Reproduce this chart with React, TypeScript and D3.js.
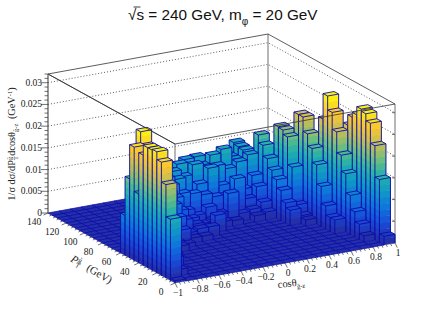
import React from 'react';
import * as d3 from 'd3';

// binned cross section, in units of 1e-3 GeV^-1, one list per cos bin; each starts at firstPtBin
const firstPtBin = [0, 2, 6, 8, 9, 10, 11, 11, 12, 13, 14, 14, 15, 14, 14, 11, 10, 6, 2, 0];
const binValues = [
  [0.5, 14.1, 21.5, 26.1, 27.9, 27.7, 27.7, 25.4, 15.9, 26.1, 18.2, 9.2],
  [1.4, 3.5, 5.8, 9, 13.4, 17.1, 21.9, 25.8, 28.6, 23.1],
  [1.4, 3.2, 5.8, 9.2, 13.6, 16.8, 19.6, 21.9],
  [0.7, 1.4, 2.3, 1.8, 3.7, 11.5, 18.5, 19.6],
  [1.4, 1.8, 3.5, 5.8, 6.9, 9.2, 11.5, 13.8, 16.2],
  [0.9, 3.5, 5.8, 8.1, 10.4, 11.5, 13.8, 15],
  [1.2, 1.8, 4.2, 5.8, 8.1, 10.4, 11.5, 12.7],
  [1.2, 2.3, 2.8, 3.5, 4.8, 8.1, 10.8, 12, 11.5],
  [2.3, 1.4, 1.8, 3.2, 7.6, 5.8, 10.4, 12.7],
  [3.9, 2.3, 4.6, 6.9, 8.8, 12.7, 8.3, 12.7],
  [1.4, 2.8, 6, 12, 10.4, 11.5, 12.9, 9.2],
  [1.2, 6.9, 5.8, 7.6, 11.5, 13.4, 11.5, 9.2],
  [1.8, 9.2, 6.9, 10.4, 14.3, 10.2, 9.2],
  [1.4, 2.3, 4.2, 5.8, 11.5, 11.5, 11.5, 11.5],
  [1.8, 3.5, 6.5, 8.5, 12.7, 13.2, 13.4, 13.8],
  [3.5, 4.6, 6.9, 8.8, 10.4, 12.5, 15, 16.8],
  [1.4, 1.8, 3.7, 11.8, 18.2, 19.2, 19.4],
  [3.2, 3.2, 5.3, 9.2, 13.6, 16.8, 19.6, 22.9, 22.9],
  [1.4, 3.5, 5.8, 9, 13.4, 17.1, 21.9, 25.8, 29, 23.1],
  [2, 14.5, 21.7, 26.3, 27.9, 28.4, 26.5, 25.4, 23, 20.7, 16.1, 9.2],
];
const cosTicks = [-1, -0.8, -0.6, -0.4, -0.2, 0, 0.2, 0.4, 0.6, 0.8, 1];
const ptTicks = [0, 20, 40, 60, 80, 100, 120, 140];
const zTicks = [0, 0.005, 0.01, 0.015, 0.02, 0.025, 0.03];
const paletteStops = ['#2430a8', '#194bd7', '#0f73dc', '#0f96c8', '#1eafaf', '#64be82', '#bebe5a', '#fac332', '#faf00f'];

const nCos = 20;
const nPt = 28;
const zMax = 0.032;
const levelStep = 0.00145;

const cosX = d3.scaleLinear([-1, 1], [0, 220]);
const cosY = d3.scaleLinear([-1, 1], [0, -40]);
const ptX = d3.scaleLinear([0, 140], [0, -127]);
const ptY = d3.scaleLinear([0, 140], [0, -70]);
const zY = d3.scaleLinear([0, zMax], [0, -139]);
const originX = 175;
const originY = 283;

const project = (c: number, p: number, z: number): [number, number] => [
  originX + cosX(c) + ptX(p),
  originY + cosY(c) + ptY(p) + zY(z),
];

const palette = d3
  .scaleLinear<string>()
  .domain(paletteStops.map((_, k) => k / (paletteStops.length - 1)))
  .range(paletteStops)
  .interpolate(d3.interpolateRgb);
const levelColor = (z: number) => palette(Math.min(1, Math.floor(z / levelStep) / 19));

const line = d3.line();
const poly = (pts: [number, number][]) => line(pts) + 'Z';

const binValue = (i: number, j: number) => {
  const k = j - firstPtBin[i];
  return k >= 0 && k < binValues[i].length ? binValues[i][k] * 1e-3 : 0;
};

const edgeBlue = '#0a0aaa';

const Bar = ({ i, j }: { i: number; j: number }) => {
  const c0 = -1 + (2 * i) / nCos;
  const c1 = -1 + (2 * (i + 1)) / nCos;
  const p0 = (140 * j) / nPt;
  const p1 = (140 * (j + 1)) / nPt;
  const v = binValue(i, j);
  const bands = [];
  for (let z = 0; z < v; z += levelStep) {
    const z1 = Math.min(v, z + levelStep);
    const col = palette(Math.min(1, Math.floor(z / levelStep + 0.01) / 19));
    const d =
      poly([project(c0, p0, z), project(c1, p0, z), project(c1, p0, z1), project(c0, p0, z1)]) +
      poly([project(c0, p1, z), project(c0, p0, z), project(c0, p0, z1), project(c0, p1, z1)]);
    bands.push(<path key={z} d={d} fill={col} stroke={col} strokeWidth={0.4} />);
  }
  const top = poly([project(c0, p0, v), project(c1, p0, v), project(c1, p1, v), project(c0, p1, v)]);
  const edges =
    v > 0
      ? line([project(c0, p1, 0), project(c0, p1, v)]) +
        line([project(c0, p0, 0), project(c0, p0, v)]) +
        line([project(c1, p0, 0), project(c1, p0, v)])
      : '';
  return (
    <g>
      {bands}
      <path d={edges} fill="none" stroke={edgeBlue} strokeWidth={0.9} />
      <path d={top} fill={levelColor(v)} stroke={edgeBlue} strokeWidth={v > 0 ? 0.9 : 0.75} />
    </g>
  );
};

const serif = '"Liberation Serif", serif';

export default function App() {
  const cells = [];
  for (let i = nCos - 1; i >= 0; i--) {
    for (let j = nPt - 1; j >= 0; j--) {
      cells.push(<Bar key={i + '-' + j} i={i} j={j} />);
    }
  }
  const zMinor = d3.range(0, 0.0321, 0.001);
  const cosMinor = d3.range(0, 51).map((k) => -1 + k * 0.04);
  const ptMinor = d3.range(0, 141, 4);
  const [lx, ly] = project(-1, 140, 0);
  const [bx, by] = project(1, 140, 0);
  const [rx, ry] = project(1, 0, 0);
  const [fx, fy] = project(-1, 0, 0);
  const topY = zY(zMax);

  return (
    <svg width={443} height={318} style={{ position: 'absolute', left: 0, top: 0 }}>
      <rect width={443} height={318} fill="#fff" />

      {zTicks.slice(1).map((t) => (
        <path
          key={t}
          d={line([
            [lx, ly + zY(t)],
            [bx, by + zY(t)],
            [rx, ry + zY(t)],
          ]) as string}
          fill="none"
          stroke="#333"
          strokeWidth={0.8}
          strokeDasharray="1 2"
        />
      ))}

      {/* box */}
      <path
        d={`M${bx},${by}V${by + topY}M${rx},${ry}V${ry + topY}M${fx},${fy}V${fy + topY}`}
        fill="none"
        stroke="#888"
        strokeWidth={1.2}
      />
      <path
        d={line([
          [fx, fy + topY],
          [lx, ly + topY],
          [bx, by + topY],
          [rx, ry + topY],
        ]) as string}
        fill="none"
        stroke="#333"
        strokeWidth={0.8}
      />
      {zTicks.map((t) => (
        <path key={t} d={`M${rx},${ry + zY(t)}h-3`} stroke="#333" strokeWidth={0.7} />
      ))}

      {cells}

      {/* front top edges go over the bars */}
      <path
        d={line([
          [lx, ly + topY],
          [fx, fy + topY],
          [rx, ry + topY],
        ]) as string}
        fill="none"
        stroke="#333"
        strokeWidth={0.8}
      />

      {/* z axis */}
      <path d={`M${lx},${ly}V${ly + topY}`} stroke="#555" strokeWidth={1.2} />
      {zMinor.map((t, k) => (
        <path key={k} d={`M${lx},${ly + zY(t)}h${k % 5 === 0 ? -7 : -3.5}`} stroke="#333" strokeWidth={0.7} />
      ))}
      {zTicks.map((t) => (
        <text key={t} x={lx - 6} y={ly + zY(t) + 3} textAnchor="end" fontFamily={serif} fontSize={9.5} fill="#222">
          {t}
        </text>
      ))}

      {/* cos axis */}
      {cosMinor.map((c, k) => {
        const [x, y] = project(c, 0, 0);
        const len = k % 5 === 0 ? 1 : 0.5;
        return <path key={k} d={`M${x},${y}l${2.3 * len},${4.6 * len}`} stroke="#333" strokeWidth={0.7} />;
      })}
      {cosTicks.map((c) => {
        const [x, y] = project(c, 0, 0);
        return (
          <text key={c} x={x + 3} y={y + 13} textAnchor="middle" fontFamily={serif} fontSize={9.5} fill="#222">
            {String(c).replace('-', '\u2212')}
          </text>
        );
      })}

      {/* pt axis */}
      {ptMinor.map((p, k) => {
        const [x, y] = project(-1, p, 0);
        const len = k % 5 === 0 ? 1 : 0.5;
        return <path key={k} d={`M${x},${y}l${-4.5 * len},${2 * len}`} stroke="#333" strokeWidth={0.7} />;
      })}
      {ptTicks.map((p) => {
        const [x, y] = project(-1, p, 0);
        return (
          <text key={p} x={x - 14} y={y + 12} textAnchor="middle" fontFamily={serif} fontSize={9.5} fill="#222">
            {p}
          </text>
        );
      })}

      {/* titles */}
      <path d="M133.5,7h7" stroke="#111" strokeWidth={0.8} fill="none" />
      <text x={128} y={20} fontFamily='"Liberation Sans", sans-serif' fontSize={15.3} fill="#111">
        √s = 240 GeV, m
        <tspan dy={5} fontSize={10}>
          φ
        </tspan>
        <tspan dy={-5}> = 20 GeV</tspan>
      </text>
      <text transform="translate(15,144) rotate(-90)" textAnchor="middle" fontFamily={serif} fontSize={10.3} fill="#222">
        1/σ dσ/dP
        <tspan dy={2.5} fontSize={6.5}>
          T
        </tspan>
        <tspan dx={-4} dy={-6} fontSize={6.5}>
          g̃
        </tspan>
        <tspan dx={1} dy={3.5}>dcosθ</tspan>
        <tspan dy={2.5} fontSize={6.5}>
          g̃-z
        </tspan>
        <tspan dx={2} dy={-2.5}> (GeV</tspan>
        <tspan dy={-3.5} fontSize={6.5}>
          -1
        </tspan>
        <tspan dy={3.5}>)</tspan>
      </text>
      <text transform="translate(70,261) rotate(30)" fontFamily={serif} fontSize={10.8} fill="#222">
        <tspan fontStyle="italic">P</tspan>
        <tspan dy={2.5} fontSize={7}>
          T
        </tspan>
        <tspan dx={-4} dy={-6} fontSize={7}>
          g̃
        </tspan>
        <tspan dx={5} dy={3.5}> (GeV)</tspan>
      </text>
      <text transform="translate(278,288) rotate(-6)" fontFamily={serif} fontSize={10.5} fill="#222">
        cosθ
        <tspan dy={2.5} fontSize={6.5}>
          g̃-z
        </tspan>
      </text>
    </svg>
  );
}
